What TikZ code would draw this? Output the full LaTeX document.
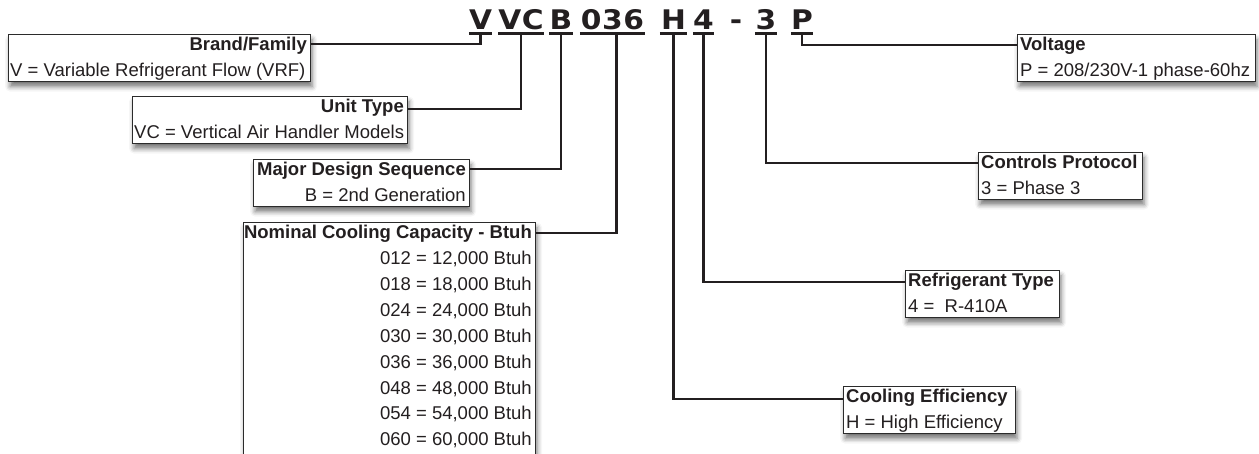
\documentclass[tikz,border=0pt]{standalone}
\usepackage{fontspec}
\setmainfont{Liberation Sans}
\newfontfamily\codefont[FakeStretch=1.1,LetterSpace=2]{DejaVu Sans Bold}
\usetikzlibrary{shadows.blur}
\definecolor{ink}{HTML}{231F20}
\definecolor{frame}{HTML}{2B2B2B}
\begin{document}
\begin{tikzpicture}[x=1pt,y=-1pt,
  box/.style={draw=frame, line width=1.2pt, fill=white, rectangle, inner sep=0pt, anchor=north west,
    blur shadow={shadow xshift=1.5pt, shadow yshift=-5pt, shadow blur radius=5pt, shadow opacity=55}},
  title/.style={font=\fontsize{18.5}{26}\selectfont\bfseries, text=ink, inner sep=0pt},
  body/.style={font=\fontsize{18.5}{26}\selectfont, text=ink, inner sep=0pt},
  code/.style={font=\codefont\fontsize{27}{28}\selectfont, text=ink, inner sep=0pt, anchor=base},
  uline/.style={line width=3pt, draw=ink},
  conn/.style={line width=2.5pt, draw=ink, line join=miter},
]
\useasboundingbox (0,0) rectangle (1259,453);
\clip (0,0) rectangle (1259,453);

% code letters
\node[code, minimum width=22pt] (cV)   at (480.5,29.5) {V};
\node[code, minimum width=44pt] (cVC)  at (521,29.5) {VC};
\node[code, minimum width=21pt] (cB)   at (561,29.5) {B};
\node[code, minimum width=65pt] (c036) at (612.5,29.5) {036};
\node[code, minimum width=27pt] (cH)   at (673.5,29.5) {H};
\node[code, minimum width=21pt] (c4)   at (703.5,29.5) {4};
\node[code]                     (cdash) at (736,29.5) {-};
\node[code, minimum width=22pt] (c3)   at (766,29.5) {3};
\node[code, minimum width=20pt] (cP)   at (802,29.5) {P};
\foreach \n in {cV,cVC,cB,c036,cH,c4,c3,cP}
  \draw[uline] ([yshift=-4pt]\n.base west) -- ([yshift=-4pt]\n.base east);

% boxes (left)
\node[box, minimum width=302pt, minimum height=47pt] (brand) at (8,34) {};
\node[title, anchor=base east] (brandT) at (307,50) {Brand/Family};
\node[body, anchor=base west] (brandB) at (10,76) {V = Variable Refrigerant Flow (VRF)};

\node[box, minimum width=275pt, minimum height=47pt] (unit) at (132,96) {};
\node[title, anchor=base east] (unitT) at (404,112) {Unit Type};
\node[body, anchor=base west] (unitB) at (134,138) {VC = Vertical Air Handler Models};

\node[box, minimum width=216pt, minimum height=47pt] (major) at (253,159) {};
\node[title, anchor=base east] (majorT) at (466,175) {Major Design Sequence};
\node[body, anchor=base east] (majorB) at (466,201) {B = 2nd Generation};

\node[box, minimum width=292pt, minimum height=260pt] (nom) at (243,222) {};
\node[title, anchor=base east] (nomT) at (532,238) {Nominal Cooling Capacity - Btuh};
\foreach \t [count=\i from 0] in {012 = 12{,}000 Btuh,018 = 18{,}000 Btuh,024 = 24{,}000 Btuh,030 = 30{,}000 Btuh,036 = 36{,}000 Btuh,048 = 48{,}000 Btuh,054 = 54{,}000 Btuh,060 = 60{,}000 Btuh}
  \node[body, anchor=base east] (nom\i) at (532,264.5+25.9*\i) {\t};

% boxes (right)
\node[box, minimum width=238pt, minimum height=47pt] (volt) at (1017,34) {};
\node[title, anchor=base west] (voltT) at (1020,50) {Voltage};
\node[body, anchor=base west] (voltB) at (1020,76) {P = 208/230V-1 phase-60hz};

\node[box, minimum width=164pt, minimum height=47pt] (ctrl) at (978,152) {};
\node[title, anchor=base west] (ctrlT) at (981,168) {Controls Protocol};
\node[body, anchor=base west] (ctrlB) at (981,194) {3 = Phase 3};

\node[box, minimum width=154pt, minimum height=47pt] (refr) at (905,270) {};
\node[title, anchor=base west] (refrT) at (908,286) {Refrigerant Type};
\node[body, anchor=base west] (refrB) at (908,312) {4 = \ R-410A};

\node[box, minimum width=172pt, minimum height=47pt] (cool) at (843,386) {};
\node[title, anchor=base west] (coolT) at (846,402) {Cooling Efficiency};
\node[body, anchor=base west] (coolB) at (846,428) {H = High Efficiency};

% connectors
\draw[conn] ([yshift=-4pt]cV.base) |- ([yshift=-10pt]brand.north east);
\draw[conn] ([yshift=-4pt]cVC.base) |- ([yshift=-13pt]unit.north east);
\draw[conn] ([yshift=-4pt]cB.base) |- ([yshift=-10pt]major.north east);
\draw[conn] ([xshift=4pt,yshift=-4pt]c036.base) |- ([yshift=-11pt]nom.north east);
\draw[conn] ([yshift=-4pt]cH.base) |- ([yshift=-13pt]cool.north west);
\draw[conn] ([yshift=-4pt]c4.base) |- ([yshift=-12pt]refr.north west);
\draw[conn] ([yshift=-4pt]c3.base) |- ([yshift=-11pt]ctrl.north west);
\draw[conn] ([yshift=-4pt]cP.base) |- ([yshift=-11pt]volt.north west);
\end{tikzpicture}
\end{document}
